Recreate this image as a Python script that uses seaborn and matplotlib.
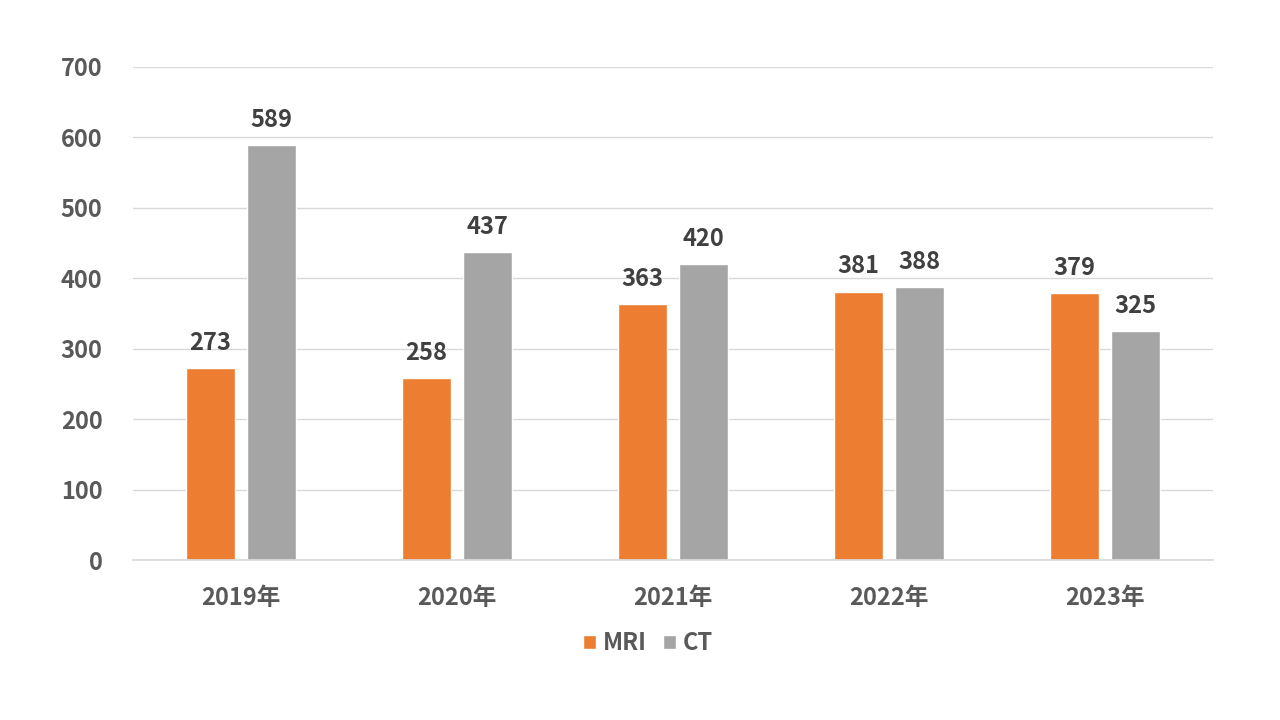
import matplotlib
matplotlib.use("Agg")
import matplotlib.pyplot as plt
import seaborn as sns
import pandas as pd
from matplotlib.patches import Patch

years = ["2019年", "2020年", "2021年", "2022年", "2023年"]
mri = [273, 258, 363, 381, 379]
ct = [589, 437, 420, 388, 325]
series_names = ["MRI", "CT"]
colors = ["#ED7D31", "#A5A5A5"]

df = pd.DataFrame({
    "year": years * 2,
    "value": mri + ct,
    "kind": [series_names[0]] * len(years) + [series_names[1]] * len(years),
})

sns.set_theme(style="white")
plt.rcParams['font.family'] = ['Noto Sans CJK JP', 'DejaVu Sans']

FS = 17

fig = plt.figure(figsize=(12.8, 7.2), dpi=100)
ax = fig.add_axes([133/1280, 1-560/720, (1213-133)/1280, (560-67)/720])

sns.barplot(data=df, x="year", y="value", hue="kind", palette=colors,
            width=0.57, gap=0.2, ax=ax, legend=False, saturation=1)

ax.set_ylim(0, 700)
ax.set_xlim(-0.5, len(years) - 0.5)
ax.set_yticks(range(0, 701, 100))
ax.yaxis.grid(True, color="#D9D9D9", linewidth=1)
ax.set_axisbelow(True)
for s in ["top", "right", "left"]:
    ax.spines[s].set_visible(False)
ax.spines["bottom"].set_color("#D9D9D9")
ax.set_xlabel("")
ax.set_ylabel("")
ax.tick_params(axis="both", length=0, labelsize=FS, colors="#595959")
ax.tick_params(axis="y", pad=22)
ax.tick_params(axis="x", pad=19)
for lab in ax.get_xticklabels() + ax.get_yticklabels():
    lab.set_fontweight("bold")

for cont in ax.containers:
    ax.bar_label(cont, labels=[f"{int(v)}" for v in cont.datavalues], padding=9.5,
                 fontsize=FS, fontweight="bold", color="#404040")

handles = [Patch(facecolor=c, label=n) for c, n in zip(colors, series_names)]
leg = fig.legend(handles=handles, loc="center", bbox_to_anchor=(648/1280, 1-643/720),
                 ncol=2, frameon=False, handlelength=0.55, handleheight=0.55,
                 handletextpad=0.3, columnspacing=0.7,
                 prop={"size": FS, "weight": "bold"})
for t in leg.get_texts():
    t.set_color("#595959")

fig.savefig("out.png", dpi=100, facecolor="white")
